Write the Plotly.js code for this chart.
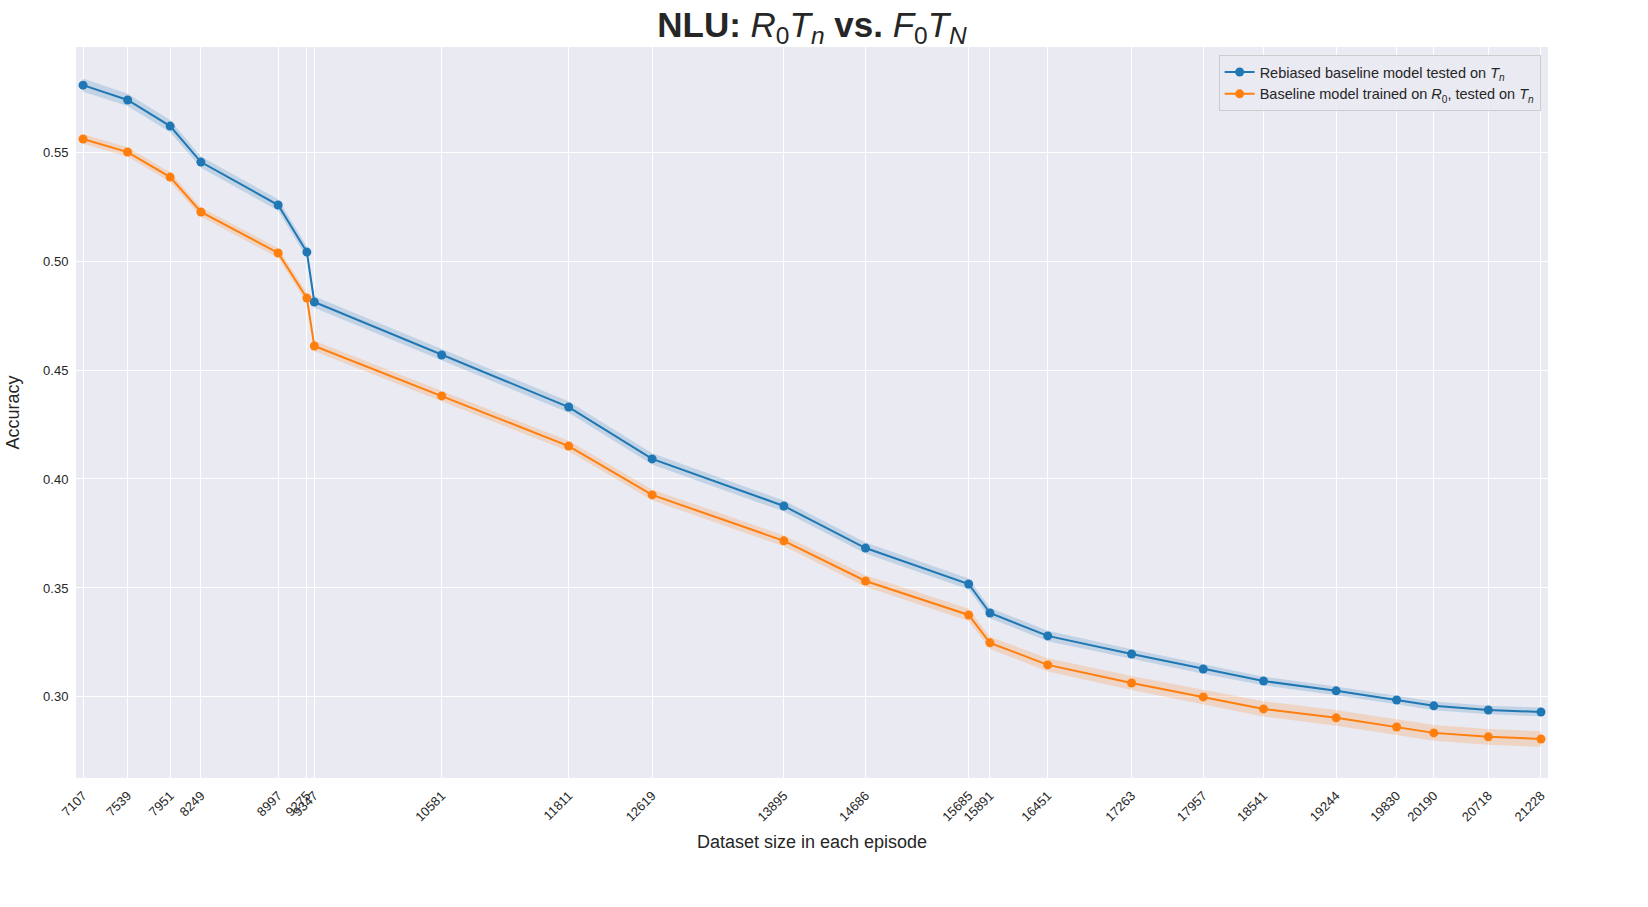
<!DOCTYPE html>
<html>
<head>
<meta charset="utf-8">
<script src="https://cdn.plot.ly/plotly-3.0.1.min.js"></script>
<style>
    body { margin: 0; background: #ffffff; }
    #plot_area { width: 1648px; height: 907px; }
</style>
</head>
<body>
<div id="plot_area"></div>
<script>
// Dataset sizes (x ticks)
const datasetSizes = [7107, 7539, 7951, 8249, 8997, 9275, 9347, 10581, 11811, 12619, 13895,
    14686, 15685, 15891, 16451, 17263, 17957, 18541, 19244, 19830, 20190, 20718, 21228];

// Rebiased baseline model tested on T_n
const rebiasedAcc = [0.5807, 0.5739, 0.5619, 0.5454, 0.5257, 0.5041, 0.4812, 0.4569, 0.4330,
    0.4092, 0.3876, 0.3683, 0.3518, 0.3385, 0.3280, 0.3197, 0.3128, 0.3073, 0.3028, 0.2986,
    0.2959, 0.2940, 0.2931];
const rebiasedErr = [0.0030, 0.0028, 0.0028, 0.0026, 0.0026, 0.0026, 0.0026, 0.0026, 0.0026,
    0.0026, 0.0025, 0.0025, 0.0025, 0.0024, 0.0024, 0.0022, 0.0022, 0.0020, 0.0020, 0.0020,
    0.0020, 0.0020, 0.0020];

// Baseline model trained on R_0, tested on T_n
const baselineAcc = [0.5560, 0.5500, 0.5385, 0.5225, 0.5037, 0.4830, 0.4610, 0.4381, 0.4151,
    0.3927, 0.3716, 0.3532, 0.3376, 0.3248, 0.3147, 0.3064, 0.3000, 0.2945, 0.2904, 0.2862,
    0.2835, 0.2817, 0.2807];
const baselineErr = [0.0022, 0.0022, 0.0022, 0.0022, 0.0022, 0.0024, 0.0024, 0.0024, 0.0024,
    0.0025, 0.0025, 0.0026, 0.0028, 0.0028, 0.0030, 0.0032, 0.0034, 0.0035, 0.0036, 0.0036,
    0.0036, 0.0036, 0.0036];

const yTicks = [0.30, 0.35, 0.40, 0.45, 0.50, 0.55];

const series = [
    { name: 'Rebiased baseline model tested on <i>T</i><sub><i>n</i></sub>', acc: rebiasedAcc, err: rebiasedErr,
      color: '#1f77b4', band: 'rgba(31,119,180,0.2)' },
    { name: 'Baseline model trained on <i>R</i><sub>0</sub>, tested on <i>T</i><sub><i>n</i></sub>', acc: baselineAcc, err: baselineErr,
      color: '#ff7f0e', band: 'rgba(255,127,14,0.2)' }
];

const traces = [];
// Bands first, so the lines are drawn on top
series.forEach(s => {
    traces.push({
        x: datasetSizes, y: s.acc.map((v, i) => v - s.err[i]),
        mode: 'lines', line: { width: 0 }, hoverinfo: 'skip', showlegend: false
    });
    traces.push({
        x: datasetSizes, y: s.acc.map((v, i) => v + s.err[i]),
        mode: 'lines', line: { width: 0 }, fill: 'tonexty', fillcolor: s.band,
        hoverinfo: 'skip', showlegend: false
    });
});
series.forEach(s => {
    traces.push({
        x: datasetSizes, y: s.acc, name: s.name,
        mode: 'lines+markers', type: 'scatter',
        line: { color: s.color, width: 2 },
        marker: { color: s.color, size: 9 }
    });
});

const layout = {
    width: 1648,
    height: 907,
    paper_bgcolor: '#ffffff',
    plot_bgcolor: '#eaeaf2',
    font: { family: 'Liberation Sans, Arial, sans-serif', color: '#262626', size: 13 },
    margin: { t: 47, l: 76, r: 100, b: 129 },
    title: {
        text: '<b>NLU:</b> <i>R</i><sub>0</sub><i>T</i><sub><i>n</i></sub> <b>vs.</b> <i>F</i><sub>0</sub><i>T</i><sub><i>N</i></sub>',
        font: { size: 35, color: '#262626' },
        x: 0.5, xref: 'paper', y: 0.973, yanchor: 'middle'
    },
    xaxis: {
        range: [7039, 21296],
        tickmode: 'array',
        tickvals: datasetSizes,
        ticktext: datasetSizes.map(String),
        tickangle: -45,
        showgrid: true,
        gridcolor: '#ffffff',
        gridwidth: 1,
        zeroline: false,
        showline: false,
        ticks: 'outside',
        ticklen: 4,
        tickcolor: 'rgba(0,0,0,0)',
        tickfont: { size: 13 },
        title: { text: 'Dataset size in each episode', font: { size: 18 }, standoff: 12 }
    },
    yaxis: {
        range: [0.2628, 0.5982],
        tickmode: 'array',
        tickvals: yTicks,
        ticktext: yTicks.map(v => v.toFixed(2)),
        showgrid: true,
        gridcolor: '#ffffff',
        gridwidth: 1,
        zeroline: false,
        showline: false,
        ticks: 'outside',
        ticklen: 4,
        tickcolor: 'rgba(0,0,0,0)',
        tickfont: { size: 13 },
        title: { text: 'Accuracy', font: { size: 18 }, standoff: 18 }
    },
    legend: {
        x: 0.995, y: 0.989, xanchor: 'right', yanchor: 'top',
        traceorder: 'normal',
        bgcolor: 'rgba(234,234,242,0.9)',
        bordercolor: '#cccccc', borderwidth: 1,
        font: { size: 14.5 },
        tracegroupgap: 4
    },
    showlegend: true
};

Plotly.newPlot('plot_area', traces, layout, { displayModeBar: false });
</script>
</body>
</html>
